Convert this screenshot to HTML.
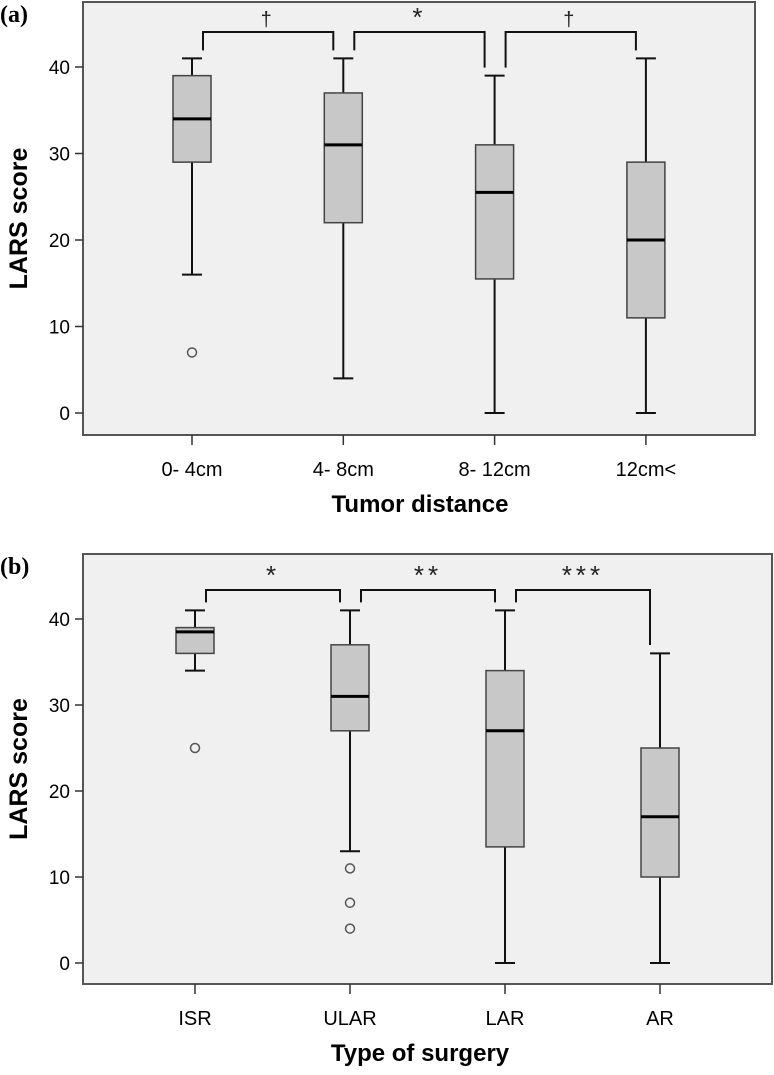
<!DOCTYPE html>
<html><head><meta charset="utf-8"><style>
body{margin:0;background:#fff;}
svg{display:block;font-family:"Liberation Sans",Arial,sans-serif;}
</style></head><body>
<svg id="fig" width="774" height="1075" viewBox="0 0 774 1075" xmlns="http://www.w3.org/2000/svg"></svg>
<script>
const catsA=["0- 4cm","4- 8cm","8- 12cm","12cm<"];
const loA=[16,4,0,0], q1A=[29,22,15.5,11], medA=[34,31,25.5,20], q3A=[39,37,31,29], hiA=[41,41,39,41];
const outA=[[7],[],[],[]];
const sigA=["†","*","†"];
const catsB=["ISR","ULAR","LAR","AR"];
const loB=[34,13,0,0], q1B=[36,27,13.5,10], medB=[38.5,31,27,17], q3B=[39,37,34,25], hiB=[41,41,41,36];
const outB=[[25],[11,7,4],[],[]];
const sigB=["*","**","***"];
const yTicks=[0,10,20,30,40];
const NS="http://www.w3.org/2000/svg";
const svg=document.getElementById('fig');
function mk(tag,attrs,parent,text){const e=document.createElementNS(NS,tag);for(const k in attrs)e.setAttribute(k,attrs[k]);if(text!==undefined)e.textContent=text;(parent||svg).appendChild(e);return e;}
function panel(p){
  const g=mk('g',{});
  
  
  const y=v=>p.y0-v*p.ppu;
  const x=i=>p.x0+i*p.dx;
  const bg=mk('rect',{x:83,y:p.top,width:p.right-83,height:p.bottom-p.top,fill:'#f0f0f0',stroke:'#555','stroke-width':2},g);
  
  const lab=mk('text',{x:0,y:p.top+20,'font-family':'Liberation Serif,serif','font-weight':'bold','font-size':24},g,p.tag);
  
  yTicks.forEach(t=>{
    mk('line',{x1:75,x2:83,y1:y(t),y2:y(t),stroke:'#333','stroke-width':1.5},g);
    const tt=mk('text',{x:70,y:y(t)+7,'text-anchor':'end','font-size':19},g,t);
    
  });
  const yt=mk('text',{transform:`translate(27,${(p.top+p.bottom)/2}) rotate(-90)`,'text-anchor':'middle','font-size':25,'font-weight':'bold'},g,'LARS score');
  
  const xt=mk('text',{x:420,y:p.bottom+77,'text-anchor':'middle','font-size':24,'font-weight':'bold'},g,p.xtitle);
  
  p.cats.forEach((c,i)=>{
    const cx=x(i);
    mk('line',{x1:cx,x2:cx,y1:p.bottom,y2:p.bottom+10,stroke:'#333','stroke-width':1.5},g);
    const tl=mk('text',{x:cx,y:p.bottom+41,'text-anchor':'middle','font-size':20},g,c);
    
    const bw=38;
    const w1=mk('line',{x1:cx,x2:cx,y1:y(p.hi[i]),y2:y(p.q3[i]),stroke:'#111','stroke-width':2},g);
    
    const w2=mk('line',{x1:cx,x2:cx,y1:y(p.q1[i]),y2:y(p.lo[i]),stroke:'#111','stroke-width':2},g);
    
    mk('line',{x1:cx-10,x2:cx+10,y1:y(p.hi[i]),y2:y(p.hi[i]),stroke:'#111','stroke-width':2},g);
    mk('line',{x1:cx-10,x2:cx+10,y1:y(p.lo[i]),y2:y(p.lo[i]),stroke:'#111','stroke-width':2},g);
    const b=mk('rect',{x:cx-bw/2,y:y(p.q3[i]),width:bw,height:y(p.q1[i])-y(p.q3[i]),fill:'#c8c8c8',stroke:'#444','stroke-width':1.5},g);
    
    const m=mk('line',{x1:cx-bw/2,x2:cx+bw/2,y1:y(p.med[i]),y2:y(p.med[i]),stroke:'#000','stroke-width':3},g);
    
    p.out[i].forEach(o=>{
      const oc=mk('circle',{cx:cx,cy:y(o),r:4.5,fill:'none',stroke:'#555','stroke-width':1.5},g);
      
    });
  });
  p.sig.forEach((s,i)=>{
    const xa=x(i)+11, xb=x(i+1)-10;
    const yb=p.by;
    const ba=y(p.hi[i])-8, bb=(i===2&&p.lastDrop)?p.lastDrop:y(p.hi[i+1])-8;
    const br=mk('path',{d:`M${xa},${ba} V${yb} H${xb} V${bb}`,fill:'none',stroke:'#111','stroke-width':2},g);
    
    const st=mk('text',{x:(xa+xb)/2,y:yb-6,'text-anchor':'middle','font-size':s==='†'?20:26,'letter-spacing':4,fill:'#222'},g,s);
    
  });
}
panel({name:'panel-a',tag:'(a)',top:2,bottom:435,right:755,y0:413,ppu:8.65,x0:192,dx:151.3,cats:catsA,lo:loA,q1:q1A,med:medA,q3:q3A,hi:hiA,out:outA,sig:sigA,by:32,xtitle:'Tumor distance'});
panel({name:'panel-b',tag:'(b)',top:554,bottom:984,right:772,y0:963,ppu:8.6,x0:195,dx:155,cats:catsB,lo:loB,q1:q1B,med:medB,q3:q3B,hi:hiB,out:outB,sig:sigB,by:590,lastDrop:645,xtitle:'Type of surgery'});
</script>
</body></html>
